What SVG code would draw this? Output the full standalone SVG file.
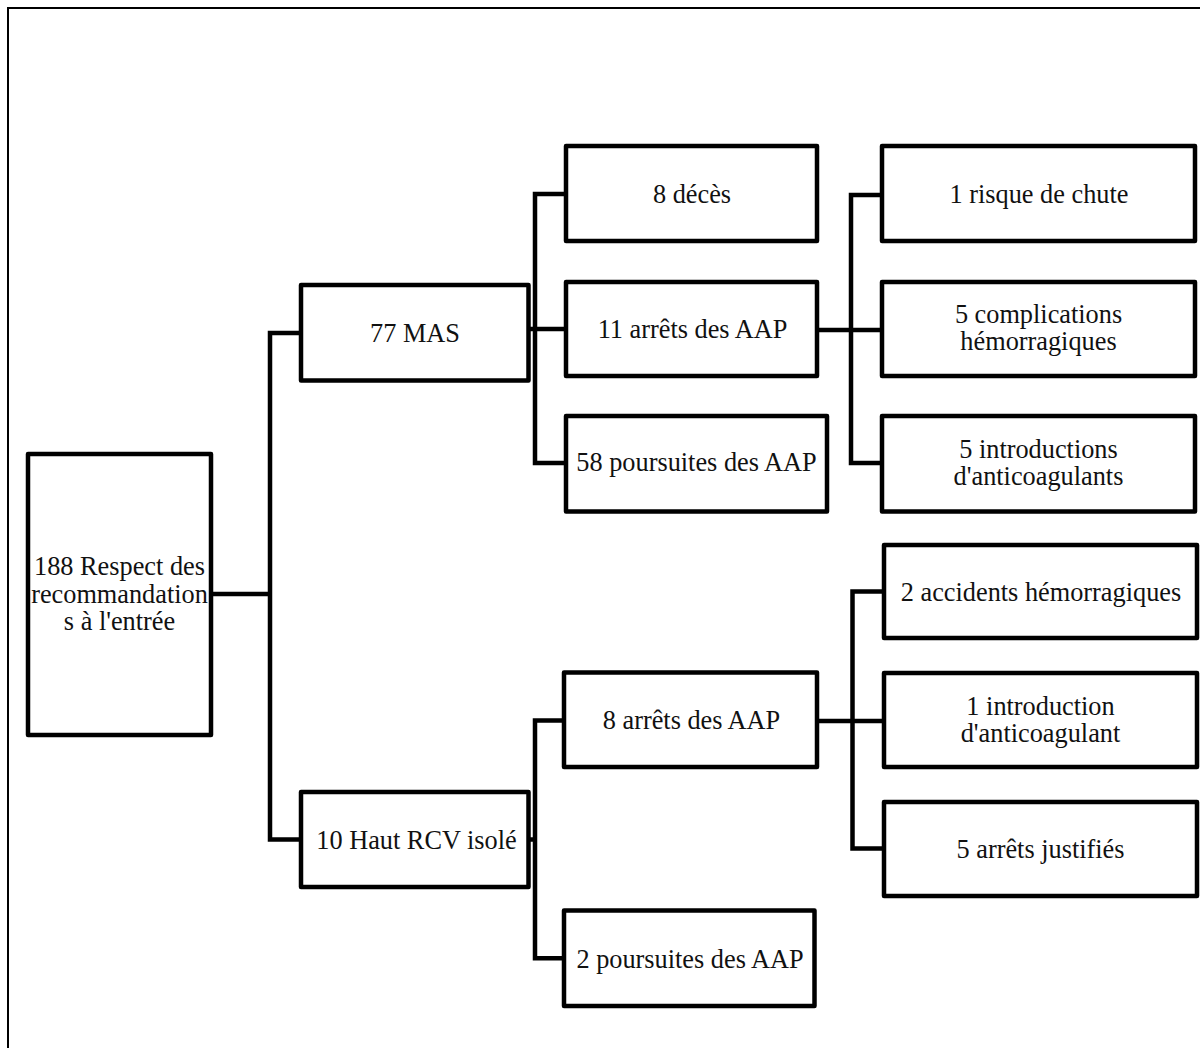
<svg xmlns="http://www.w3.org/2000/svg" width="1200" height="1048" viewBox="0 0 1200 1048">
<style>
.box{fill:#fff;stroke:#000;stroke-width:4.5;stroke-linejoin:round}
.ln{fill:none;stroke:#000;stroke-width:4.5;stroke-linejoin:miter}
.t{font-family:"Liberation Serif","Times New Roman",serif;font-size:26.3px;fill:#111;text-anchor:middle}
</style>
<rect x="0" y="0" width="1200" height="1048" fill="#fff"/>
<path d="M8,1048 V8 H1200" fill="none" stroke="#000" stroke-width="2"/>
<g id="connectors">
<path class="ln" d="M211,594 H270"/>
<path class="ln" d="M301,333 H270 V839.5 H301"/>
<path class="ln" d="M566,194 H535 V463 H566"/>
<path class="ln" d="M528,329 H566"/>
<path class="ln" d="M565,720.5 H535 V958.3 H565"/>
<path class="ln" d="M528,839.5 H535"/>
<path class="ln" d="M817,330 H882"/>
<path class="ln" d="M882,195 H851 V463 H882"/>
<path class="ln" d="M817,721 H884"/>
<path class="ln" d="M884,591.5 H852.5 V848.5 H884"/>
</g>
<g id="n1"><rect class="box" x="28" y="454" width="183" height="281"/>
<text class="t" x="119.5" y="575">188 Respect des</text>
<text class="t" x="119.5" y="602.5">recommandation</text>
<text class="t" x="119.5" y="630">s à l'entrée</text></g>
<g id="n2"><rect class="box" x="301" y="285" width="227.5" height="95.5"/><text class="t" x="415" y="342.3">77 MAS</text></g>
<g id="n3"><rect class="box" x="301" y="792" width="227.5" height="95"/><text class="t" x="416.5" y="848.5">10 Haut RCV isolé</text></g>
<g id="n4"><rect class="box" x="566" y="146" width="251" height="95"/><text class="t" x="692" y="202.7">8 décès</text></g>
<g id="n5"><rect class="box" x="566" y="282" width="251" height="94"/><text class="t" x="692.5" y="337.5">11 arrêts des AAP</text></g>
<g id="n6"><rect class="box" x="566" y="416" width="261" height="95.5"/><text class="t" x="696.5" y="471">58 poursuites des AAP</text></g>
<g id="n7"><rect class="box" x="564" y="672.5" width="253" height="94.5"/><text class="t" x="691.5" y="728.5">8 arrêts des AAP</text></g>
<g id="n8"><rect class="box" x="564" y="910.5" width="250.5" height="95.5"/><text class="t" x="690" y="968.3">2 poursuites des AAP</text></g>
<g id="n9"><rect class="box" x="882" y="146" width="313" height="95"/><text class="t" x="1039" y="203">1 risque de chute</text></g>
<g id="n10"><rect class="box" x="882" y="282" width="313" height="94"/><text class="t" x="1038.5" y="323.3">5 complications</text><text class="t" x="1038.5" y="350">hémorragiques</text></g>
<g id="n11"><rect class="box" x="882" y="416" width="313" height="95.5"/><text class="t" x="1038.5" y="458.3">5 introductions</text><text class="t" x="1038.5" y="485">d'anticoagulants</text></g>
<g id="n12"><rect class="box" x="884" y="545" width="313" height="93"/><text class="t" x="1041" y="601">2 accidents hémorragiques</text></g>
<g id="n13"><rect class="box" x="884" y="673" width="313" height="94"/><text class="t" x="1040.5" y="715">1 introduction</text><text class="t" x="1040.5" y="741.7">d'anticoagulant</text></g>
<g id="n14"><rect class="box" x="884" y="802" width="313" height="94"/><text class="t" x="1040.5" y="858">5 arrêts justifiés</text></g>
</svg>
